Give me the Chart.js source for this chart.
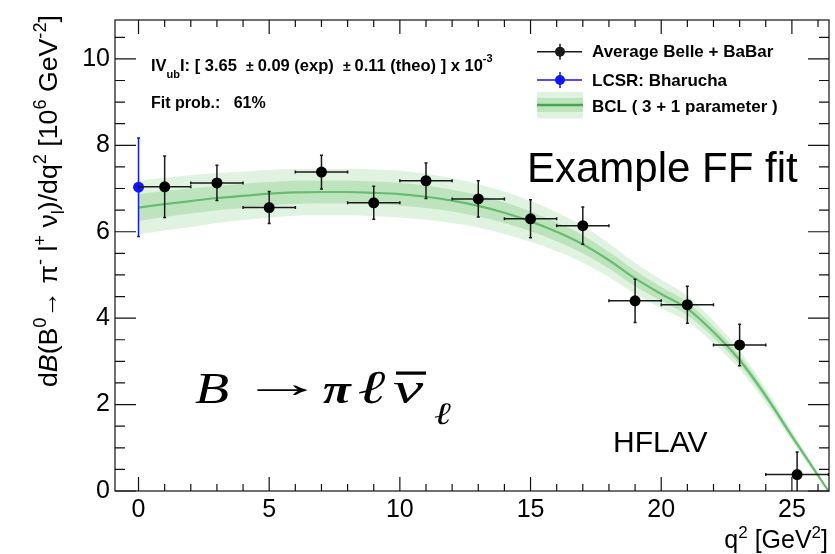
<!DOCTYPE html>
<html><head><meta charset="utf-8">
<script src="https://cdn.jsdelivr.net/npm/chart.js@4/dist/chart.umd.min.js"></script>
<style>html,body{margin:0;padding:0;background:#fff;}canvas{display:block;}</style>
</head><body>
<canvas id="c" width="835" height="554"></canvas>
<script>
// ---- data ----
const q2Nodes     = [0,1,2,3,4,5,6,7,8,9,10,11,12,13,14,15,16,17,18,19,20,21,22,23,24,25,26,26.4];
const fitCentral  = [6.56,6.64,6.71,6.78,6.83,6.88,6.91,6.92,6.92,6.90,6.87,6.81,6.72,6.60,6.44,6.24,6.00,5.71,5.34,4.92,4.56,4.22,3.68,3.03,2.20,1.27,0.36,0.0];
const fitInnerErr = [0.31,0.30,0.29,0.28,0.28,0.27,0.27,0.26,0.26,0.26,0.26,0.26,0.25,0.25,0.24,0.23,0.22,0.21,0.19,0.18,0.16,0.15,0.13,0.11,0.09,0.06,0.03,0.0];
const fitOuterErr = [0.62,0.61,0.60,0.58,0.56,0.55,0.54,0.54,0.54,0.54,0.54,0.53,0.52,0.50,0.49,0.47,0.45,0.42,0.39,0.36,0.33,0.30,0.26,0.22,0.17,0.12,0.06,0.0];

const avgX    = [1,3,5,7,9,11,13,15,17,19,21,23,25.2];
const avgXErr = [1,1,1,1,1,1,1,1,1,1,1,1,1.2];
const avgY    = [7.04,7.13,6.56,7.38,6.67,7.18,6.76,6.30,6.14,4.40,4.31,3.38,0.38];
const avgYErr = [0.71,0.41,0.37,0.39,0.38,0.41,0.42,0.44,0.43,0.50,0.43,0.48,0.52];

const lcsrX    = [0];
const lcsrY    = [7.03];
const lcsrYErr = [1.14];

const xTickLabels = [0,5,10,15,20,25];
const yTickLabels = [0,2,4,6,8,10];

// ---- styles ----
const LIGHT = 'rgb(224,242,224)';
const DARK  = 'rgb(190,228,190)';
const LINE  = 'rgb(104,188,114)';
const FONT  = '"Liberation Sans", Arial, Helvetica, sans-serif';
const SERIF = '"Liberation Serif", "Times New Roman", serif';

const pts = (xs, ys) => xs.map((x,i)=>({x, y: ys[i]}));
const band = (sign, errs) => q2Nodes.map((x,i)=>({x, y: fitCentral[i] + sign*errs[i]}));

function drawErrors(chart, xs, ys, xe, ye, color, horiz) {
  const ctx = chart.ctx, sx = chart.scales.x, sy = chart.scales.y, a = chart.chartArea;
  ctx.save();
  ctx.beginPath(); ctx.rect(a.left, a.top, a.right-a.left, a.bottom-a.top); ctx.clip();
  ctx.strokeStyle = color; ctx.lineWidth = 1.5;
  xs.forEach((x,i)=>{
    const px = sx.getPixelForValue(x), py = sy.getPixelForValue(ys[i]);
    const y1 = sy.getPixelForValue(ys[i]+ye[i]), y2 = sy.getPixelForValue(ys[i]-ye[i]);
    ctx.beginPath(); ctx.moveTo(px,y1); ctx.lineTo(px,y2); ctx.stroke();
    ctx.beginPath(); ctx.moveTo(px-1.5,y1); ctx.lineTo(px+1.5,y1); ctx.moveTo(px-1.5,y2); ctx.lineTo(px+1.5,y2); ctx.stroke();
    if (horiz) {
      const x1 = sx.getPixelForValue(x-xe[i]), x2 = sx.getPixelForValue(x+xe[i]);
      ctx.beginPath(); ctx.moveTo(x1,py); ctx.lineTo(x2,py); ctx.stroke();
      ctx.beginPath(); ctx.moveTo(x1,py-1.5); ctx.lineTo(x1,py+1.5); ctx.moveTo(x2,py-1.5); ctx.lineTo(x2,py+1.5); ctx.stroke();
    }
  });
  ctx.restore();
}

function drawRich(ctx, pieces, x, y, size, weight) {
  let cx = x;
  pieces.forEach(([t, k])=>{
    let fs = size, dy = 0, style = '';
    if (k === 'sup') { fs = size*0.68; dy = -size*0.42; }
    if (k === 'sub') { fs = size*0.68; dy = size*0.28; }
    if (k === 'i') style = 'italic ';
    ctx.font = style + (weight||'') + ' ' + fs.toFixed(1) + 'px ' + FONT;
    ctx.fillText(t, cx, y+dy);
    cx += ctx.measureText(t).width;
  });
  return cx - x;
}
function measureRich(ctx, pieces, size, weight) {
  let w = 0;
  pieces.forEach(([t,k])=>{
    let fs = size; if (k==='sup'||k==='sub') fs = size*0.68;
    ctx.font = (k==='i'?'italic ':'') + (weight||'') + ' ' + fs.toFixed(1) + 'px ' + FONT;
    w += ctx.measureText(t).width;
  });
  return w;
}
// draw a glyph with its ink starting at 'left'; optional stretch to width w
function glyph(ctx, t, font, left, base, w) {
  ctx.font = font;
  const m = ctx.measureText(t);
  const inkW = m.actualBoundingBoxLeft + m.actualBoundingBoxRight;
  const k = w ? w / inkW : 1;
  ctx.save(); ctx.translate(left, base); ctx.scale(k, 1);
  ctx.textAlign = 'left'; ctx.textBaseline = 'alphabetic';
  ctx.fillText(t, m.actualBoundingBoxLeft, 0);
  ctx.restore();
}

const decor = {
  id: 'decor',
  beforeDatasetDraw(chart, args) {
    if (args.index === 5) drawErrors(chart, avgX, avgY, avgXErr, avgYErr, '#1a1a1a', true);
    if (args.index === 6) drawErrors(chart, lcsrX, lcsrY, [0], lcsrYErr, '#1414ff', false);
  },
  afterDraw(chart) {
    const ctx = chart.ctx, a = chart.chartArea, sx = chart.scales.x, sy = chart.scales.y;
    ctx.save();
    ctx.strokeStyle = '#111'; ctx.lineWidth = 1.2;
    ctx.strokeRect(a.left, a.top, a.right-a.left, a.bottom-a.top);
    ctx.beginPath();
    for (let v = 0; v <= 26; v += 1) {
      const px = sx.getPixelForValue(v), L = (v % 5 === 0) ? 14 : 7;
      ctx.moveTo(px, a.bottom); ctx.lineTo(px, a.bottom - L);
      ctx.moveTo(px, a.top); ctx.lineTo(px, a.top + L);
    }
    for (let v = 0; v <= 10.5; v += 0.5) {
      const py = sy.getPixelForValue(v), L = (v % 2 === 0) ? 21 : 10;
      ctx.moveTo(a.left, py); ctx.lineTo(a.left + L, py);
      ctx.moveTo(a.right, py); ctx.lineTo(a.right - L, py);
    }
    ctx.stroke();

    ctx.fillStyle = '#000';
    ctx.textBaseline = 'alphabetic';
    ctx.textAlign = 'left';
    // y-axis title (rotated)
    const yt = [['d','n'],['B','i'],['(B','n'],['0','sup'],['\u2192 \u03c0','n'],['-','sup'],[' l','n'],['+','sup'],[' \u03bd','n'],['l','sub'],[')/dq','n'],['2','sup'],[' [10','n'],['6','sup'],[' GeV','n'],['-2','sup'],[']','n']];
    const fsY = 26 * 372 / measureRich(ctx, yt, 26, '');
    ctx.save(); ctx.translate(57, 387); ctx.rotate(-Math.PI/2);
    drawRich(ctx, yt, 0, 0, fsY, '');
    ctx.restore();

    // x-axis title
    const xt = [['q','n'],['2','sup'],[' [GeV','n'],['2','sup'],[']','n']];
    const wx = measureRich(ctx, xt, 25, '');
    drawRich(ctx, xt, 828 - wx, 548, 25, '');

    // fit info text
    let cx = 151;
    cx += drawRich(ctx, [['IV','n']], cx, 70.5, 16.5, 'bold');
    ctx.font = 'bold 11px ' + FONT; ctx.fillText('ub', cx, 78); cx += ctx.measureText('ub').width;
    cx += drawRich(ctx, [['I: [ 3.65  ','n']], cx, 70.5, 16.5, 'bold');
    ctx.font = 'bold 14px ' + FONT; ctx.fillText('\u00b1', cx, 70.5); cx += ctx.measureText('\u00b1 ').width;
    cx += drawRich(ctx, [['0.09 (exp)  ','n']], cx, 70.5, 16.5, 'bold');
    ctx.font = 'bold 14px ' + FONT; ctx.fillText('\u00b1', cx, 70.5); cx += ctx.measureText('\u00b1 ').width;
    cx += drawRich(ctx, [['0.11 (theo) ] x 10','n']], cx, 70.5, 16.5, 'bold');
    ctx.font = 'bold 11px ' + FONT; ctx.fillText('-3', cx, 62);
    ctx.font = 'bold 16px ' + FONT; ctx.fillText('Fit prob.:   61%', 151, 108);

    // legend
    ctx.lineWidth = 1.5;
    const lg = [[51.7,'#1a1a1a','Average Belle + BaBar'],[80,'#1414ff','LCSR: Bharucha']];
    lg.forEach(([y,c,t])=>{
      ctx.strokeStyle = c; ctx.fillStyle = c;
      ctx.beginPath(); ctx.moveTo(537,y); ctx.lineTo(582,y); ctx.moveTo(560,y-8); ctx.lineTo(560,y+8); ctx.stroke();
      ctx.beginPath(); ctx.arc(560,y,5,0,Math.PI*2); ctx.fill();
      ctx.fillStyle = '#000'; ctx.font = 'bold 17px ' + FONT; ctx.textBaseline = 'middle';
      ctx.fillText(t, 592, y+1);
    });
    ctx.fillStyle = LIGHT; ctx.fillRect(537, 92, 46, 26.5);
    ctx.fillStyle = DARK;  ctx.fillRect(537, 98, 46, 14);
    ctx.strokeStyle = 'rgb(70,165,85)'; ctx.lineWidth = 2.5;
    ctx.beginPath(); ctx.moveTo(537,105); ctx.lineTo(583,105); ctx.stroke();
    ctx.fillStyle = '#000'; ctx.font = 'bold 17px ' + FONT;
    ctx.fillText('BCL ( 3 + 1 parameter )', 592, 107);

    // big labels
    ctx.textBaseline = 'alphabetic';
    ctx.font = '42px ' + FONT; ctx.fillText('Example FF fit', 527, 182);
    ctx.font = '30px ' + FONT; ctx.fillText('HFLAV', 613, 452);

    // B -> pi l nu_bar l formula
    glyph(ctx, 'B', 'italic 44px ' + SERIF, 195, 403, 33);
    glyph(ctx, '\u2192', '40px ' + SERIF, 257, 397, 50);
    glyph(ctx, '\u03c0', 'italic bold 42px ' + SERIF, 323, 403, 29);
    glyph(ctx, '\u2113', 'italic 47px ' + SERIF, 359, 403, 27);
    glyph(ctx, '\u03bd', 'italic 44px ' + SERIF, 393, 403, 31);
    ctx.fillRect(396, 371.5, 30, 3.2);
    glyph(ctx, '\u2113', 'italic 31px ' + SERIF, 434, 424, 17);
    ctx.restore();
  }
};

new Chart(document.getElementById('c'), {
  data: {
    datasets: [
      {type:'line', data: band(1, fitOuterErr),  fill:'+1', backgroundColor: LIGHT, borderWidth:0, pointRadius:0, cubicInterpolationMode:'monotone', order:6},
      {type:'line', data: band(-1, fitOuterErr), fill:false, borderWidth:0, pointRadius:0, cubicInterpolationMode:'monotone', order:6},
      {type:'line', data: band(1, fitInnerErr),  fill:'+1', backgroundColor: DARK, borderWidth:0, pointRadius:0, cubicInterpolationMode:'monotone', order:5},
      {type:'line', data: band(-1, fitInnerErr), fill:false, borderWidth:0, pointRadius:0, cubicInterpolationMode:'monotone', order:5},
      {type:'line', data: pts(q2Nodes, fitCentral), fill:false, borderColor: LINE, borderWidth:2.2, pointRadius:0, cubicInterpolationMode:'monotone', order:4},
      {type:'scatter', data: pts(avgX, avgY), backgroundColor:'#000', borderWidth:0, pointRadius:5.5, order:2},
      {type:'scatter', data: pts(lcsrX, lcsrY), backgroundColor:'#1414ff', borderWidth:0, pointRadius:5.5, order:3}
    ]
  },
  options: {
    responsive:false, animation:false, devicePixelRatio:1,
    layout:{padding:{top:16, right:6, left:0, bottom:0}},
    plugins:{legend:{display:false}, tooltip:{enabled:false}},
    scales:{
      x:{type:'linear', min:-0.9, max:26.42,
         grid:{display:false, drawTicks:false}, border:{display:false},
         afterBuildTicks: s => { s.ticks = xTickLabels.map(v=>({value:v})); },
         afterFit: s => { s.height = 63; },
         ticks:{font:{family:'Liberation Sans', size:25}, color:'#000', padding:4, maxRotation:0, autoSkip:false}},
      y:{type:'linear', min:0, max:10.9,
         grid:{display:false, drawTicks:false}, border:{display:false},
         afterBuildTicks: s => { s.ticks = yTickLabels.map(v=>({value:v})); },
         afterFit: s => { s.width = 115; },
         ticks:{font:{family:'Liberation Sans', size:25}, color:'#000', padding:5, autoSkip:false}}
    }
  },
  plugins:[decor]
});
</script>
</body></html>
